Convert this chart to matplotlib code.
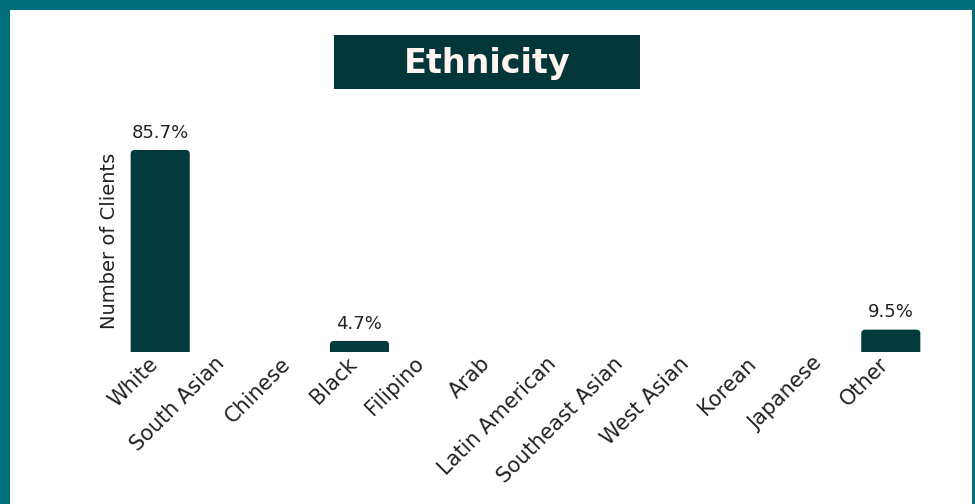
import matplotlib.pyplot as plt
from matplotlib.patches import FancyBboxPatch, Rectangle
from matplotlib.transforms import ScaledTranslation

# -- data
categories = ["White", "South Asian", "Chinese", "Black", "Filipino", "Arab",
              "Latin American", "Southeast Asian", "West Asian", "Korean",
              "Japanese", "Other"]
shares = [85.7, 0, 0, 4.7, 0, 0, 0, 0, 0, 0, 0, 9.5]
labels = ["85.7%", "", "", "4.7%", "", "", "", "", "", "", "", "9.5%"]

bar_color = "#023a3e"
frame_color = "#00707a"
W, H = 975, 504

plt.rcParams['font.family'] = ['DejaVu Sans']

fig = plt.figure(figsize=(W / 100, H / 100), dpi=100)
fig.patch.set_facecolor("white")

#-- frame around the card
fig.add_artist(Rectangle((0, 0), 10 / W, 1, transform=fig.transFigure,
                         color=frame_color, lw=0))
fig.add_artist(Rectangle((0, 1 - 10 / H), 1, 10 / H, transform=fig.transFigure,
                         color=frame_color, lw=0))
fig.add_artist(Rectangle((1 - 3 / W, 0), 3 / W, 1, transform=fig.transFigure,
                         color=frame_color, lw=0))

#-- title box
fig.add_artist(Rectangle((334 / W, 1 - 89 / H), 306 / W, 54 / H,
                         transform=fig.transFigure, color="#02363a", lw=0))
fig.text(487 / W, 1 - 63 / H, "Ethnicity", ha="center", va="center",
         fontsize=24, fontweight="bold", color="#fff4ef")

#-- axes placed in pixels
left, right, bottom, top = 127, 924, 352, 130
ax = fig.add_axes([left / W, 1 - bottom / H, (right - left) / W, (bottom - top) / H])
ymax = 85.7 * (bottom - top) / (bottom - 150)
ax.set_xlim(-0.5, len(categories) - 0.5)
ax.set_ylim(0, ymax)

x = range(len(categories))
bars = ax.bar(x, shares, width=0.89, color=bar_color)

#-- swap plain bars for ones with rounded tops
px_x = (right - left) / len(categories)
px_y = (bottom - top) / ymax
r = 4 / px_x
for b in bars:
    h = b.get_height()
    b.set_visible(False)
    if h <= 0:
        continue
    rb = FancyBboxPatch((b.get_x(), -5), b.get_width(), h + 5,
                        boxstyle="round,pad=0,rounding_size=%f" % r,
                        mutation_aspect=px_x / px_y,
                        fc=bar_color, ec="none")
    ax.add_patch(rb)

for xi, v, lab in zip(x, shares, labels):
    if lab:
        ax.annotate(lab, (xi, v), xytext=(0, 6), textcoords="offset points",
                    ha="center", va="bottom", fontsize=13, color="#222222")

ax.set_xticks(list(x))
ax.set_xticklabels(categories, rotation=45, ha="right", rotation_mode="anchor",
                   fontsize=15, color="#222222")
ax.tick_params(axis="x", length=0, pad=1)
#-- nudge tick labels a bit to the left
shift = ScaledTranslation(-9 / 72, 0, fig.dpi_scale_trans)
for t in ax.get_xticklabels():
    t.set_transform(t.get_transform() + shift)
ax.set_yticks([])
ax.set_ylabel("Number of Clients", fontsize=14, color="#222222", labelpad=6)
for s in ax.spines.values():
    s.set_visible(False)

plt.savefig("out.png", dpi=100)
